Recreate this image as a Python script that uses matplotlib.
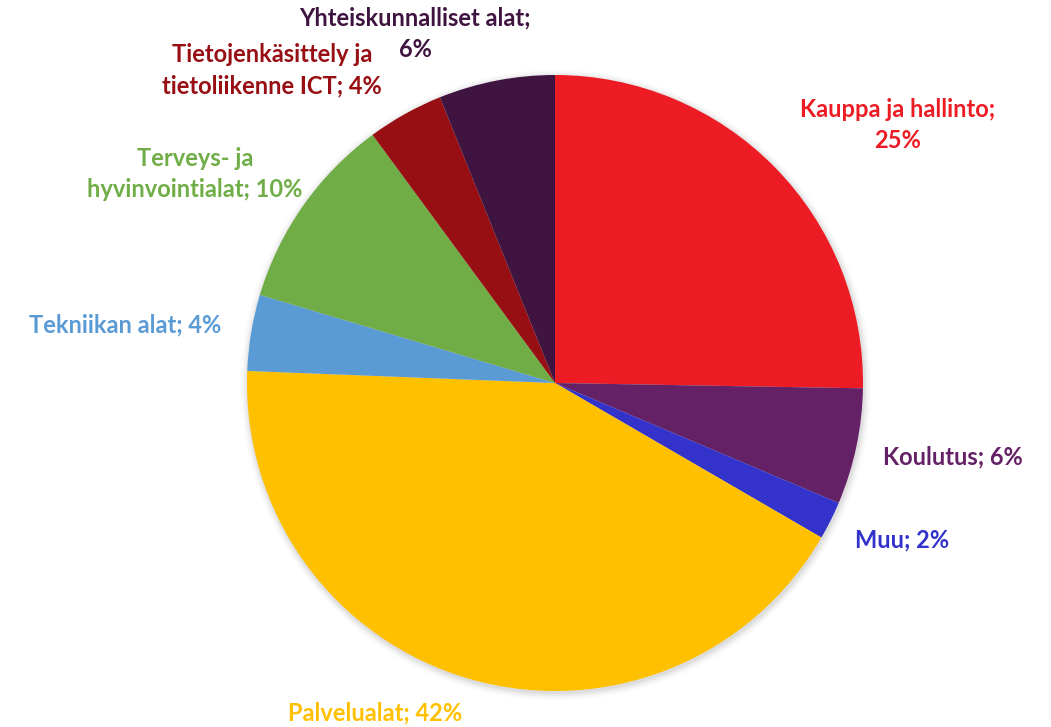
import matplotlib
matplotlib.use("Agg")
import matplotlib.pyplot as plt
import numpy as np

categories = ["Kauppa ja hallinto", "Koulutus", "Muu", "Palvelualat",
              "Tekniikan alat", "Terveys- ja hyvinvointialat",
              "Tietojenkäsittely ja tietoliikenne ICT", "Yhteiskunnalliset alat"]
values = [25.3, 6.1, 2.0, 42.3, 4.0, 10.3, 4.0, 6.1]
label_texts = ["Kauppa ja hallinto;\n25%", "Koulutus; 6%", "Muu; 2%",
               "Palvelualat; 42%", "Tekniikan alat; 4%",
               "Terveys- ja\nhyvinvointialat; 10%",
               "Tietojenkäsittely ja\ntietoliikenne ICT; 4%",
               "Yhteiskunnalliset alat;\n6%"]
colors = ["#ED1C24", "#642166", "#3333CC", "#FFC000", "#5B9BD5",
          "#70AD47", "#970E13", "#3F1440"]
# label centre positions in pixel coordinates (x from left, y from top)
label_pos = [(898, 125), (953, 457), (902, 540), (375, 713), (125, 325),
             (195, 174), (272, 70), (415, 34)]

W, H = 1051, 727
fig = plt.figure(figsize=(W / 100, H / 100), dpi=100)
ax = fig.add_axes([0, 0, 1, 1])
ax.set_xlim(0, W)
ax.set_ylim(0, H)
ax.set_aspect("equal")
ax.axis("off")

cx, cy, r = 555, H - 383, 308
# soft shadow
for i, a in enumerate(np.linspace(0.04, 0.005, 6)):
    ax.add_patch(plt.Circle((cx + 1, cy - 2), r + 1 + i * 1.5, color="black",
                            alpha=a, lw=0, zorder=0))

ax.pie(values, colors=colors, startangle=90, counterclock=False,
       center=(cx, cy), radius=r, frame=True,
       wedgeprops=dict(linewidth=0, edgecolor="none"))
ax.set_xlim(0, W)
ax.set_ylim(0, H)
ax.axis("off")

for txt, (px, py), c in zip(label_texts, label_pos, colors):
    ax.text(px, H - py, txt, color=c, fontsize=17, fontweight="bold",
            family="Lato", ha="center", va="center", linespacing=1.45)

fig.savefig("out.png", dpi=100)
